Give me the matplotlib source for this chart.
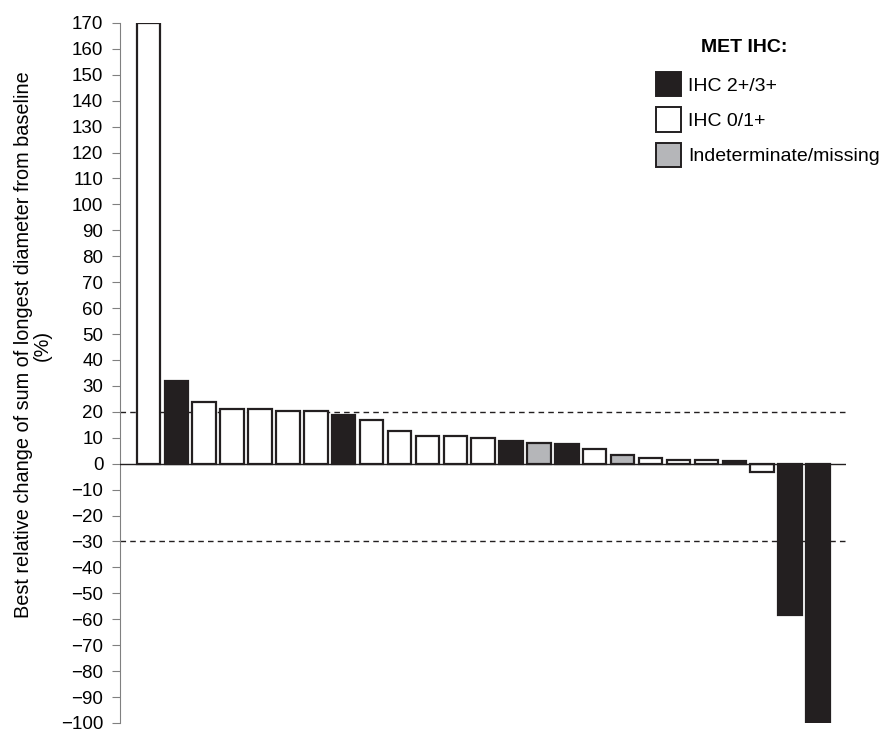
import numpy as np
import matplotlib.pyplot as plt
from matplotlib.patches import Patch

# data
values = [170, 32, 23.9, 21.2, 21.0, 20.5, 20.5, 18.8, 17.0, 12.5, 10.6, 10.6, 9.8,
          8.9, 7.8, 7.7, 5.7, 3.3, 2.1, 1.6, 1.3, 1.2, -3.3, -58.4, -100]
groups = ['w', 'b', 'w', 'w', 'w', 'w', 'w', 'b', 'w', 'w', 'w', 'w', 'w',
          'b', 'g', 'b', 'w', 'g', 'w', 'w', 'w', 'b', 'w', 'b', 'b']
legend_labels = ['IHC 2+/3+', 'IHC 0/1+', 'Indeterminate/missing']
yticks = list(range(-100, 171, 10))

colors = {'b': '#231f20', 'w': 'white', 'g': '#b5b6b9'}

plt.rcParams['font.family'] = ['Liberation Sans', 'DejaVu Sans']

fig = plt.figure(figsize=(8.82, 7.3), dpi=100)
ax = fig.add_axes([0.136, 0.0096, 0.823, 0.959])

x = np.arange(len(values))
ax.bar(x, values, width=0.84, color=[colors[g] for g in groups],
       edgecolor='#231f20', linewidth=1.6, zorder=3)

ax.set_xlim(-1.02, 25.0)
ax.set_ylim(-100, 170)
ax.axhline(0, color='#231f20', linewidth=1.0, zorder=4)
ax.axhline(20, color='#231f20', linewidth=1.0, linestyle=(0, (4, 3)), zorder=2)
ax.axhline(-30, color='#231f20', linewidth=1.0, linestyle=(0, (4, 3)), zorder=2)

for s in ['top', 'right', 'bottom']:
    ax.spines[s].set_visible(False)
ax.spines['left'].set_color('#808080')
ax.set_xticks([])
ax.set_yticks(yticks)
ax.set_yticklabels([str(t).replace('-', '\u2212') for t in yticks], fontsize=13.5)
ax.tick_params(axis='y', length=6, color='#808080', pad=6)
ax.set_ylabel('Best relative change of sum of longest diameter from baseline\n(%)',
              fontsize=14.3, linespacing=0.95)
ax.yaxis.set_label_coords(-0.094, 0.54)

handles = [Patch(facecolor=colors[g], edgecolor='#231f20', linewidth=1.4)
           for g in ['b', 'w', 'g']]
ax.legend(handles, legend_labels, loc='upper left',
          bbox_to_anchor=(656 / 882, 1 - 72 / 730), bbox_transform=fig.transFigure,
          frameon=False, fontsize=14, handlelength=1.29, handleheight=1.54,
          handletextpad=0.36, labelspacing=0.57, borderaxespad=0, borderpad=0)
fig.text(744 / 882, 1 - 48 / 730, 'MET IHC:', fontsize=14, fontweight='bold',
         ha='center', va='center')

fig.savefig('out.png', dpi=100)
